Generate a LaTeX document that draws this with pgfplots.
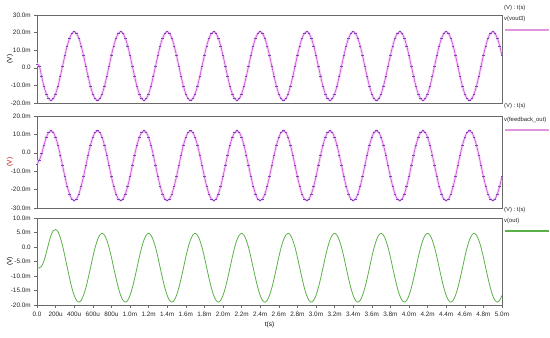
\documentclass[border=0pt]{standalone}
\usepackage{fontspec}
\setmainfont{Liberation Sans}
\usepackage{pgfplots}
\usepackage{pgfplotstable}
\pgfplotsset{compat=1.18}
\definecolor{mag}{RGB}{200,80,210}
\definecolor{magdot}{RGB}{115,70,190}
\definecolor{maghalo}{RGB}{248,218,248}
\definecolor{maglegend}{RGB}{222,150,222}
\definecolor{grn}{RGB}{92,176,72}
\definecolor{frame}{RGB}{105,105,105}

\pgfplotstableread[row sep=\\]{
i v\\
0 2.0\\ 1 1.0\\ 2 -5.0\\ 3 -10.5\\ 4 -14.8\\ 5 -17.5\\ 6 -18.5\\ 7 -17.5\\ 8 -14.8\\ 9 -10.5\\ 10 -5.0\\ 11 1.0\\ 12 7.0\\ 13 12.5\\ 14 16.8\\ 15 19.5\\ 16 20.5\\ 17 19.5\\ 18 16.8\\ 19 12.5\\
20 7.0\\ 21 1.0\\ 22 -5.0\\ 23 -10.5\\ 24 -14.8\\ 25 -17.5\\ 26 -18.5\\ 27 -17.5\\ 28 -14.8\\ 29 -10.5\\ 30 -5.0\\ 31 1.0\\ 32 7.0\\ 33 12.5\\ 34 16.8\\ 35 19.5\\ 36 20.5\\ 37 19.5\\ 38 16.8\\ 39 12.5\\
40 7.0\\ 41 1.0\\ 42 -5.0\\ 43 -10.5\\ 44 -14.8\\ 45 -17.5\\ 46 -18.5\\ 47 -17.5\\ 48 -14.8\\ 49 -10.5\\ 50 -5.0\\ 51 1.0\\ 52 7.0\\ 53 12.5\\ 54 16.8\\ 55 19.5\\ 56 20.5\\ 57 19.5\\ 58 16.8\\ 59 12.5\\
60 7.0\\ 61 1.0\\ 62 -5.0\\ 63 -10.5\\ 64 -14.8\\ 65 -17.5\\ 66 -18.5\\ 67 -17.5\\ 68 -14.8\\ 69 -10.5\\ 70 -5.0\\ 71 1.0\\ 72 7.0\\ 73 12.5\\ 74 16.8\\ 75 19.5\\ 76 20.5\\ 77 19.5\\ 78 16.8\\ 79 12.5\\
80 7.0\\ 81 1.0\\ 82 -5.0\\ 83 -10.5\\ 84 -14.8\\ 85 -17.5\\ 86 -18.5\\ 87 -17.5\\ 88 -14.8\\ 89 -10.5\\ 90 -5.0\\ 91 1.0\\ 92 7.0\\ 93 12.5\\ 94 16.8\\ 95 19.5\\ 96 20.5\\ 97 19.5\\ 98 16.8\\ 99 12.5\\
100 7.0\\ 101 1.0\\ 102 -5.0\\ 103 -10.5\\ 104 -14.8\\ 105 -17.5\\ 106 -18.5\\ 107 -17.5\\ 108 -14.8\\ 109 -10.5\\ 110 -5.0\\ 111 1.0\\ 112 7.0\\ 113 12.5\\ 114 16.8\\ 115 19.5\\ 116 20.5\\ 117 19.5\\ 118 16.8\\ 119 12.5\\
120 7.0\\ 121 1.0\\ 122 -5.0\\ 123 -10.5\\ 124 -14.8\\ 125 -17.5\\ 126 -18.5\\ 127 -17.5\\ 128 -14.8\\ 129 -10.5\\ 130 -5.0\\ 131 1.0\\ 132 7.0\\ 133 12.5\\ 134 16.8\\ 135 19.5\\ 136 20.5\\ 137 19.5\\ 138 16.8\\ 139 12.5\\
140 7.0\\ 141 1.0\\ 142 -5.0\\ 143 -10.5\\ 144 -14.8\\ 145 -17.5\\ 146 -18.5\\ 147 -17.5\\ 148 -14.8\\ 149 -10.5\\ 150 -5.0\\ 151 1.0\\ 152 7.0\\ 153 12.5\\ 154 16.8\\ 155 19.5\\ 156 20.5\\ 157 19.5\\ 158 16.8\\ 159 12.5\\
160 7.0\\ 161 1.0\\ 162 -5.0\\ 163 -10.5\\ 164 -14.8\\ 165 -17.5\\ 166 -18.5\\ 167 -17.5\\ 168 -14.8\\ 169 -10.5\\ 170 -5.0\\ 171 1.0\\ 172 7.0\\ 173 12.5\\ 174 16.8\\ 175 19.5\\ 176 20.5\\ 177 19.5\\ 178 16.8\\ 179 12.5\\
180 7.0\\ 181 1.0\\ 182 -5.0\\ 183 -10.5\\ 184 -14.8\\ 185 -17.5\\ 186 -18.5\\ 187 -17.5\\ 188 -14.8\\ 189 -10.5\\ 190 -5.0\\ 191 1.0\\ 192 7.0\\ 193 12.5\\ 194 16.8\\ 195 19.5\\ 196 20.5\\ 197 19.5\\ 198 16.8\\ 199 12.5\\
200 7.0\\
}\voutthree

\pgfplotstableread[row sep=\\]{
i v\\
0 -6.0\\ 1 -4.0\\ 2 -0.5\\ 3 4.2\\ 4 8.4\\ 5 11.1\\ 6 12.0\\ 7 11.1\\ 8 8.4\\ 9 4.2\\ 10 -1.1\\ 11 -7.0\\ 12 -12.9\\ 13 -18.2\\ 14 -22.4\\ 15 -25.1\\ 16 -26.0\\ 17 -25.1\\ 18 -22.4\\ 19 -18.2\\
20 -12.9\\ 21 -7.0\\ 22 -1.1\\ 23 4.2\\ 24 8.4\\ 25 11.1\\ 26 12.0\\ 27 11.1\\ 28 8.4\\ 29 4.2\\ 30 -1.1\\ 31 -7.0\\ 32 -12.9\\ 33 -18.2\\ 34 -22.4\\ 35 -25.1\\ 36 -26.0\\ 37 -25.1\\ 38 -22.4\\ 39 -18.2\\
40 -12.9\\ 41 -7.0\\ 42 -1.1\\ 43 4.2\\ 44 8.4\\ 45 11.1\\ 46 12.0\\ 47 11.1\\ 48 8.4\\ 49 4.2\\ 50 -1.1\\ 51 -7.0\\ 52 -12.9\\ 53 -18.2\\ 54 -22.4\\ 55 -25.1\\ 56 -26.0\\ 57 -25.1\\ 58 -22.4\\ 59 -18.2\\
60 -12.9\\ 61 -7.0\\ 62 -1.1\\ 63 4.2\\ 64 8.4\\ 65 11.1\\ 66 12.0\\ 67 11.1\\ 68 8.4\\ 69 4.2\\ 70 -1.1\\ 71 -7.0\\ 72 -12.9\\ 73 -18.2\\ 74 -22.4\\ 75 -25.1\\ 76 -26.0\\ 77 -25.1\\ 78 -22.4\\ 79 -18.2\\
80 -12.9\\ 81 -7.0\\ 82 -1.1\\ 83 4.2\\ 84 8.4\\ 85 11.1\\ 86 12.0\\ 87 11.1\\ 88 8.4\\ 89 4.2\\ 90 -1.1\\ 91 -7.0\\ 92 -12.9\\ 93 -18.2\\ 94 -22.4\\ 95 -25.1\\ 96 -26.0\\ 97 -25.1\\ 98 -22.4\\ 99 -18.2\\
100 -12.9\\ 101 -7.0\\ 102 -1.1\\ 103 4.2\\ 104 8.4\\ 105 11.1\\ 106 12.0\\ 107 11.1\\ 108 8.4\\ 109 4.2\\ 110 -1.1\\ 111 -7.0\\ 112 -12.9\\ 113 -18.2\\ 114 -22.4\\ 115 -25.1\\ 116 -26.0\\ 117 -25.1\\ 118 -22.4\\ 119 -18.2\\
120 -12.9\\ 121 -7.0\\ 122 -1.1\\ 123 4.2\\ 124 8.4\\ 125 11.1\\ 126 12.0\\ 127 11.1\\ 128 8.4\\ 129 4.2\\ 130 -1.1\\ 131 -7.0\\ 132 -12.9\\ 133 -18.2\\ 134 -22.4\\ 135 -25.1\\ 136 -26.0\\ 137 -25.1\\ 138 -22.4\\ 139 -18.2\\
140 -12.9\\ 141 -7.0\\ 142 -1.1\\ 143 4.2\\ 144 8.4\\ 145 11.1\\ 146 12.0\\ 147 11.1\\ 148 8.4\\ 149 4.2\\ 150 -1.1\\ 151 -7.0\\ 152 -12.9\\ 153 -18.2\\ 154 -22.4\\ 155 -25.1\\ 156 -26.0\\ 157 -25.1\\ 158 -22.4\\ 159 -18.2\\
160 -12.9\\ 161 -7.0\\ 162 -1.1\\ 163 4.2\\ 164 8.4\\ 165 11.1\\ 166 12.0\\ 167 11.1\\ 168 8.4\\ 169 4.2\\ 170 -1.1\\ 171 -7.0\\ 172 -12.9\\ 173 -18.2\\ 174 -22.4\\ 175 -25.1\\ 176 -26.0\\ 177 -25.1\\ 178 -22.4\\ 179 -18.2\\
180 -12.9\\ 181 -7.0\\ 182 -1.1\\ 183 4.2\\ 184 8.4\\ 185 11.1\\ 186 12.0\\ 187 11.1\\ 188 8.4\\ 189 4.2\\ 190 -1.1\\ 191 -7.0\\ 192 -12.9\\ 193 -18.2\\ 194 -22.4\\ 195 -25.1\\ 196 -26.0\\ 197 -25.1\\ 198 -22.4\\ 199 -18.2\\
200 -12.9\\
}\feedback

\pgfplotstableread[row sep=\\]{
i v\\
0 -7.0\\ 1 -7.2\\ 2 -6.6\\ 3 -4.8\\ 4 -2.0\\ 5 1.2\\ 6 4.0\\ 7 5.6\\ 8 6.0\\ 9 5.3\\ 10 3.3\\ 11 0.4\\ 12 -3.2\\ 13 -7.0\\ 14 -10.7\\ 15 -14.1\\ 16 -16.7\\ 17 -18.4\\ 18 -19.0\\ 19 -18.4\\
20 -16.7\\ 21 -14.1\\ 22 -10.8\\ 23 -7.2\\ 24 -3.5\\ 25 -0.2\\ 26 2.4\\ 27 4.1\\ 28 4.7\\ 29 4.1\\ 30 2.4\\ 31 -0.2\\ 32 -3.5\\ 33 -7.2\\ 34 -10.8\\ 35 -14.1\\ 36 -16.7\\ 37 -18.4\\ 38 -19.0\\ 39 -18.4\\
40 -16.7\\ 41 -14.1\\ 42 -10.8\\ 43 -7.2\\ 44 -3.5\\ 45 -0.2\\ 46 2.4\\ 47 4.1\\ 48 4.7\\ 49 4.1\\ 50 2.4\\ 51 -0.2\\ 52 -3.5\\ 53 -7.2\\ 54 -10.8\\ 55 -14.1\\ 56 -16.7\\ 57 -18.4\\ 58 -19.0\\ 59 -18.4\\
60 -16.7\\ 61 -14.1\\ 62 -10.8\\ 63 -7.2\\ 64 -3.5\\ 65 -0.2\\ 66 2.4\\ 67 4.1\\ 68 4.7\\ 69 4.1\\ 70 2.4\\ 71 -0.2\\ 72 -3.5\\ 73 -7.2\\ 74 -10.8\\ 75 -14.1\\ 76 -16.7\\ 77 -18.4\\ 78 -19.0\\ 79 -18.4\\
80 -16.7\\ 81 -14.1\\ 82 -10.8\\ 83 -7.2\\ 84 -3.5\\ 85 -0.2\\ 86 2.4\\ 87 4.1\\ 88 4.7\\ 89 4.1\\ 90 2.4\\ 91 -0.2\\ 92 -3.5\\ 93 -7.2\\ 94 -10.8\\ 95 -14.1\\ 96 -16.7\\ 97 -18.4\\ 98 -19.0\\ 99 -18.4\\
100 -16.7\\ 101 -14.1\\ 102 -10.8\\ 103 -7.2\\ 104 -3.5\\ 105 -0.2\\ 106 2.4\\ 107 4.1\\ 108 4.7\\ 109 4.1\\ 110 2.4\\ 111 -0.2\\ 112 -3.5\\ 113 -7.2\\ 114 -10.8\\ 115 -14.1\\ 116 -16.7\\ 117 -18.4\\ 118 -19.0\\ 119 -18.4\\
120 -16.7\\ 121 -14.1\\ 122 -10.8\\ 123 -7.2\\ 124 -3.5\\ 125 -0.2\\ 126 2.4\\ 127 4.1\\ 128 4.7\\ 129 4.1\\ 130 2.4\\ 131 -0.2\\ 132 -3.5\\ 133 -7.2\\ 134 -10.8\\ 135 -14.1\\ 136 -16.7\\ 137 -18.4\\ 138 -19.0\\ 139 -18.4\\
140 -16.7\\ 141 -14.1\\ 142 -10.8\\ 143 -7.2\\ 144 -3.5\\ 145 -0.2\\ 146 2.4\\ 147 4.1\\ 148 4.7\\ 149 4.1\\ 150 2.4\\ 151 -0.2\\ 152 -3.5\\ 153 -7.2\\ 154 -10.8\\ 155 -14.1\\ 156 -16.7\\ 157 -18.4\\ 158 -19.0\\ 159 -18.4\\
160 -16.7\\ 161 -14.1\\ 162 -10.8\\ 163 -7.2\\ 164 -3.5\\ 165 -0.2\\ 166 2.4\\ 167 4.1\\ 168 4.7\\ 169 4.1\\ 170 2.4\\ 171 -0.2\\ 172 -3.5\\ 173 -7.2\\ 174 -10.8\\ 175 -14.1\\ 176 -16.7\\ 177 -18.4\\ 178 -19.0\\ 179 -18.4\\
180 -16.7\\ 181 -14.1\\ 182 -10.8\\ 183 -7.2\\ 184 -3.5\\ 185 -0.2\\ 186 2.4\\ 187 4.1\\ 188 4.7\\ 189 4.1\\ 190 2.4\\ 191 -0.2\\ 192 -3.5\\ 193 -7.2\\ 194 -10.8\\ 195 -14.1\\ 196 -16.7\\ 197 -18.4\\ 198 -19.0\\ 199 -18.4\\
200 -16.7\\
}\vout

\pgfplotsset{
  panel/.style={
    scale only axis, width=465bp, xmin=0, xmax=200,
    axis line style={draw=frame, line width=0.8bp},
    tick align=outside, major tick length=2.5bp,
    tick style={draw=frame, line width=0.6bp},
    ytick pos=left, xtick pos=bottom,
    ticklabel style={font=\fontsize{6.4}{7}\selectfont, text=black!85},
    yticklabel style={xshift=-0.3bp},
    ylabel={(V)},
    ylabel style={font=\fontsize{6.5}{7}\selectfont, at={(axis description cs:-0.058,0.5)}, anchor=center},
    clip=true,
  },
  sampled/.style={smooth, draw=mag, line width=0.65bp, mark=-, mark size=1.2bp,
    mark options={draw=magdot, line width=0.55bp, solid}},
}

\begin{document}
\begin{tikzpicture}
\path[use as bounding box] (0bp,0bp) rectangle (550bp,-338bp);

% Panel 1: v(vout3)
\begin{axis}[panel, at={(37bp,-15bp)}, anchor=north west, height=88bp,
  ymin=-20, ymax=30, ytick={-20,-10,0,10,20,30},
  yticklabels={-20.0m,-10.0m,0.0,10.0m,20.0m,30.0m}, xtick=\empty]
\addplot[draw=maghalo, line width=2.8bp, smooth, forget plot] table[x=i,y=v] {\voutthree};
\addplot[sampled] table[x=i,y=v] {\voutthree};
\end{axis}

% Panel 2: v(feedback_out)
\begin{axis}[panel, at={(37bp,-116bp)}, anchor=north west, height=92bp,
  ymin=-30, ymax=20, ytick={-30,-20,-10,0,10,20},
  yticklabels={-30.0m,-20.0m,-10.0m,0.0,10.0m,20.0m}, xtick=\empty,
  ylabel style={text=red!70!black}]
\addplot[draw=maghalo, line width=2.8bp, smooth, forget plot] table[x=i,y=v] {\feedback};
\addplot[sampled] table[x=i,y=v] {\feedback};
\end{axis}

% Panel 3: v(out)
\begin{axis}[panel, at={(37bp,-218bp)}, anchor=north west, height=87bp,
  ymin=-20, ymax=10, ytick={-20,-15,-10,-5,0,5,10},
  yticklabels={-20.0m,-15.0m,-10.0m,-5.0m,0.0,5.0m,10.0m},
  xtick={0,8,...,200},
  xticklabels={0.0,200u,400u,600u,800u,1.0m,1.2m,1.4m,1.6m,1.8m,2.0m,2.2m,2.4m,2.6m,2.8m,3.0m,3.2m,3.4m,3.6m,3.8m,4.0m,4.2m,4.4m,4.6m,4.8m,5.0m},
  xticklabel style={yshift=-1.5bp},
  xlabel={t(s)}, xlabel style={font=\fontsize{6.5}{7}\selectfont, yshift=2bp}]
\addplot[smooth, draw=grn, line width=0.8bp] table[x=i,y=v] {\vout};
\end{axis}

% right-hand trace labels
\begin{scope}[every node/.style={anchor=west, inner sep=0pt, font=\fontsize{5.9}{7}\selectfont, text=black!85}]
\node at (504bp,-8bp) {(V) : t(s)};
\node at (504bp,-19bp) {v(vout3)};
\draw[maglegend, line width=1.1bp] (505bp,-30bp) -- (549bp,-30bp);
\node at (504bp,-106bp) {(V) : t(s)};
\node at (504bp,-120bp) {v(feedback\_out)};
\draw[maglegend, line width=1.1bp] (505bp,-130bp) -- (549bp,-130bp);
\node at (504bp,-210bp) {(V) : t(s)};
\node at (504bp,-221bp) {v(out)};
\draw[grn, line width=1.1bp] (505bp,-231bp) -- (549bp,-231bp);
\end{scope}
\end{tikzpicture}
\end{document}
